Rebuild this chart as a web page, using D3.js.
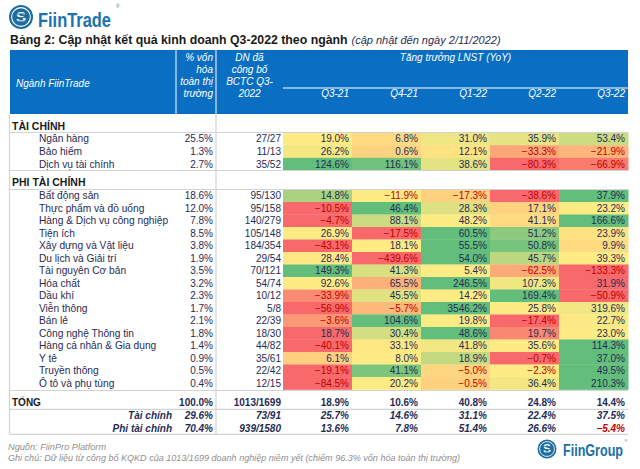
<!DOCTYPE html>
<html><head><meta charset="utf-8">
<script src="https://cdn.jsdelivr.net/npm/d3@7"></script>
<style>
html,body{margin:0;padding:0;background:#fff;}
svg{display:block;font-family:"Liberation Sans",Arial,sans-serif;}
</style></head>
<body><svg id="c" width="640" height="469"></svg>
<script>
// ---------- DATA ----------
const quarters = ["Q3-21","Q4-21","Q1-22","Q2-22","Q3-22"];

const finNames = ["Ngân hàng","Bảo hiểm","Dịch vụ tài chính"];
const finCap = [25.5, 1.3, 2.7];
const finDone = ["27/27","11/13","35/52"];
const finGrowth = [
  [19.0, 6.8, 31.0, 35.9, 53.4],
  [26.2, 0.6, 12.1, -33.3, -21.9],
  [124.6, 116.1, 38.6, -80.3, -66.9]
];

const nonNames = ["Bất động sản","Thực phẩm và đồ uống","Hàng & Dịch vụ công nghiệp","Tiện ích",
  "Xây dựng và Vật liệu","Du lịch và Giải trí","Tài nguyên Cơ bản","Hóa chất","Dầu khí","Viễn thông",
  "Bán lẻ","Công nghệ Thông tin","Hàng cá nhân & Gia dụng","Y tê","Truyền thông","Ô tô và phụ tùng"];
const nonCap = [18.6, 12.0, 7.8, 8.5, 3.8, 1.9, 3.5, 3.2, 2.3, 1.7, 2.1, 1.8, 1.4, 0.9, 0.5, 0.4];
const nonDone = ["95/130","95/158","140/279","105/148","184/354","29/54","70/121","54/74","10/12","5/8",
  "22/39","18/30","44/82","35/61","22/42","12/15"];
const nonGrowth = [
  [14.8, -11.9, -17.3, -38.6, 37.9],
  [-10.5, 46.4, 28.3, 17.1, 23.2],
  [-4.7, 88.1, 48.2, 41.1, 166.6],
  [26.9, -17.5, 60.5, 51.2, 23.9],
  [-43.1, 18.1, 55.5, 50.8, 9.9],
  [28.4, -439.6, 54.0, 45.7, 39.3],
  [149.3, 41.3, 5.4, -62.5, -133.3],
  [92.6, 65.5, 246.5, 107.3, 31.9],
  [-33.9, 45.5, 14.2, 169.4, -50.9],
  [-56.9, -5.7, 3546.2, 25.8, 319.6],
  [-3.6, 104.6, 19.8, -17.4, 22.7],
  [18.7, 30.4, 48.6, 19.7, 23.0],
  [-40.1, 33.1, 41.8, 35.6, 114.3],
  [6.1, 8.0, 18.9, -0.7, 37.0],
  [-19.1, 41.1, -5.0, -2.3, 49.5],
  [-84.5, 20.2, -0.5, 36.4, 210.3]
];

const totalNames = ["TỔNG","Tài chính","Phi tài chính"];
const totalCap = [100.0, 29.6, 70.4];
const totalDone = ["1013/1699","73/91","939/1580"];
const totalGrowth = [
  [18.9, 10.6, 40.8, 24.8, 14.4],
  [25.7, 14.6, 31.1, 22.4, 37.5],
  [13.6, 7.8, 51.4, 26.6, -5.4]
];

// ---------- LAYOUT ----------
const svg = d3.select("#c");
const BLUE = "#0a6fc2", NAVY = "#1f2c55", NEG = "#c00000", GRID = "#d3d3d3";
const X0 = 10, X1 = 628, XCAP = 176, XDN = 216, XQ = 283;
const xq = d3.scaleBand().domain(quarters).range([XQ, X1]).paddingInner(0);
const pct = v => d3.format(".1f")(v) + "%";
const cols3 = ["#F8696B","#FFEB84","#63BE7B"];
const mkScale = vals => {
  const s = vals.slice().sort(d3.ascending);
  return d3.scaleLinear().domain([d3.min(s), d3.median(s), d3.max(s)]).range(cols3).interpolate(d3.interpolateRgb);
};

// ---------- LOGO ----------
function logo(g, cx, cy, r) {
  g.append("circle").attr("cx", cx).attr("cy", cy).attr("r", r).attr("fill", "#1d6c9f");
  g.append("circle").attr("cx", cx).attr("cy", cy).attr("r", r*0.78).attr("fill", "none")
    .attr("stroke", "#fff").attr("stroke-width", r*0.09);
  g.append("text").attr("x", cx).attr("y", cy + r*0.42).attr("text-anchor", "middle")
    .attr("font-size", r*1.25).attr("font-weight", "bold").attr("fill", "#fff").text("S");
  [-0.25, 0.05, 0.35].forEach(k => g.append("line")
    .attr("x1", cx - r*0.55).attr("x2", cx + r*0.55).attr("y1", cy + k*r).attr("y2", cy + k*r)
    .attr("stroke", "#1d6c9f").attr("stroke-width", r*0.08));
}
const topLogo = svg.append("g");
logo(topLogo, 21, 17, 12);
topLogo.append("text").attr("x", 38).attr("y", 27).attr("font-size", 21).attr("font-weight", "bold")
  .attr("fill", "#1b72b0").attr("textLength", 73).attr("lengthAdjust", "spacingAndGlyphs").text("FiinTrade");
topLogo.append("text").attr("x", 116).attr("y", 8).attr("font-size", 4.5).attr("fill", "#1b72b0").text("®");

// Title
const title = svg.append("text").attr("x", 10).attr("y", 44).attr("fill", "#1a1a1a");
title.append("tspan").attr("font-size", 12.3).attr("font-weight", "bold")
  .text("Bảng 2: Cập nhật kết quả kinh doanh Q3-2022 theo ngành");
title.append("tspan").attr("font-size", 11).attr("font-style", "italic").attr("fill", "#1f2c55")
  .attr("dx", 4).text("(cập nhật đến ngày 2/11/2022)");

// ---------- HEADER ----------
const hY0 = 50, hY1 = 114;
svg.append("rect").attr("x", X0).attr("y", hY0).attr("width", X1 - X0).attr("height", hY1 - hY0).attr("fill", BLUE);
[XCAP, XDN].forEach(x => svg.append("line").attr("x1", x).attr("x2", x).attr("y1", hY0).attr("y2", hY1)
  .attr("stroke", "#fff").attr("stroke-width", 1));
svg.append("line").attr("x1", XQ).attr("x2", X1).attr("y1", 88).attr("y2", 88).attr("stroke", "#fff").attr("stroke-width", 1);
const hdr = svg.append("g").attr("fill", "#fff").attr("font-style", "italic").attr("font-size", 10);
hdr.append("text").attr("x", 16).attr("y", 86.5).text("Ngành FiinTrade");
["% vốn","hóa","toàn thị","trường"].forEach((t, i) =>
  hdr.append("text").attr("x", 213).attr("y", 60.5 + i*12).attr("text-anchor", "end").text(t));
["DN đã","công bố","BCTC Q3-","2022"].forEach((t, i) =>
  hdr.append("text").attr("x", 249.5).attr("y", 60.5 + i*12).attr("text-anchor", "middle").text(t));
hdr.append("text").attr("x", (XQ + X1)/2).attr("y", 61).attr("text-anchor", "middle").text("Tăng trưởng LNST (YoY)");
quarters.forEach(q => hdr.append("text").attr("x", xq(q) + xq.bandwidth() - 3).attr("y", 96.5)
  .attr("text-anchor", "end").text(q));

// ---------- BODY ----------
const body = svg.append("g").attr("font-size", 10);
function section(label, labelY, names, cap, done, growth, y0, y1, scaleFor) {
  body.append("text").attr("x", 12).attr("y", labelY + 4).attr("font-weight", "bold")
    .attr("font-size", 10.5).attr("fill", "#1a1a1a").text(label);
  const ys = d3.scaleBand().domain(names).range([y0, y1]);
  names.forEach((n, i) => {
    const y = ys(n), h = ys.bandwidth(), cy = y + h/2 + 3.5;
    const sc = scaleFor(i);
    quarters.forEach((q, j) => {
      const v = growth[i][j];
      body.append("rect").attr("x", xq(q)).attr("y", y).attr("width", xq.bandwidth() + 0.5).attr("height", h + 0.3)
        .attr("fill", sc(v));
      body.append("text").attr("x", xq(q) + xq.bandwidth() - 3).attr("y", cy).attr("text-anchor", "end")
        .attr("fill", v < 0 ? NEG : NAVY).text(pct(v));
    });
    body.append("text").attr("x", 39).attr("y", cy).attr("fill", NAVY).attr("font-size", 10.2).text(n);
    body.append("text").attr("x", 213).attr("y", cy).attr("text-anchor", "end").attr("fill", NAVY).text(pct(cap[i]));
    body.append("text").attr("x", 281).attr("y", cy).attr("text-anchor", "end").attr("fill", NAVY).text(done[i]);
  });
}
const finScale = mkScale(finGrowth.flat());
section("TÀI CHÍNH", 126, finNames, finCap, finDone, finGrowth, 132.5, 170.5, () => finScale);
section("PHI TÀI CHÍNH", 182, nonNames, nonCap, nonDone, nonGrowth, 189.5, 389.5, i => mkScale(nonGrowth[i]));

// totals
const totY = [402.7, 415.5, 428.2];
totalNames.forEach((n, i) => {
  const cy = totY[i] + 3.5;
  const g = body.append("g").attr("font-weight", "bold").attr("font-style", i ? "italic" : "normal");
  if (i === 0) g.append("text").attr("x", 12).attr("y", cy).attr("fill", "#1a1a1a").text(n);
  else g.append("text").attr("x", 172).attr("y", cy).attr("text-anchor", "end").attr("fill", NAVY).text(n);
  g.append("text").attr("x", 213).attr("y", cy).attr("text-anchor", "end").attr("fill", NAVY).text(pct(totalCap[i]));
  g.append("text").attr("x", 281).attr("y", cy).attr("text-anchor", "end").attr("fill", NAVY).text(totalDone[i]);
  quarters.forEach((q, j) => {
    const v = totalGrowth[i][j];
    g.append("text").attr("x", xq(q) + xq.bandwidth() - 3).attr("y", cy).attr("text-anchor", "end")
      .attr("fill", v < 0 ? NEG : NAVY).text(pct(v));
  });
});

// grid lines
const grid = svg.append("g").attr("stroke", GRID).attr("stroke-width", 1.2);
[132.5, 170.5, 189.5, 390.5, 409.3, 434.3].forEach(y =>
  grid.append("line").attr("x1", X0).attr("x2", X1).attr("y1", y).attr("y2", y));
grid.append("line").attr("x1", X0 - 0.5).attr("x2", X0 - 0.5).attr("y1", hY1).attr("y2", 434.3);
grid.append("line").attr("x1", XDN).attr("x2", XDN).attr("y1", hY1).attr("y2", 434.3);

// ---------- FOOTER ----------
const foot = svg.append("g").attr("font-size", 9.2).attr("font-style", "italic").attr("fill", "#8f8f8f");
foot.append("text").attr("x", 8).attr("y", 449.5).text("Nguồn: FiinPro Platform");
foot.append("text").attr("x", 8).attr("y", 461)
  .attr("textLength", 452).attr("lengthAdjust", "spacingAndGlyphs")
  .text("Ghi chú: Dữ liệu từ công bố KQKD của 1013/1699 doanh nghiệp niêm yết (chiếm 96.3% vốn hóa toàn thị trường)");
const bl = svg.append("g");
logo(bl, 547, 449, 9.5);
bl.append("text").attr("x", 563).attr("y", 455.5).attr("font-size", 16).attr("font-weight", "bold")
  .attr("fill", "#1b6ea8").attr("textLength", 60).attr("lengthAdjust", "spacingAndGlyphs").text("FiinGroup");
bl.append("text").attr("x", 624.5).attr("y", 442).attr("font-size", 4).attr("fill", "#1b6ea8").text("®");
</script></body></html>
